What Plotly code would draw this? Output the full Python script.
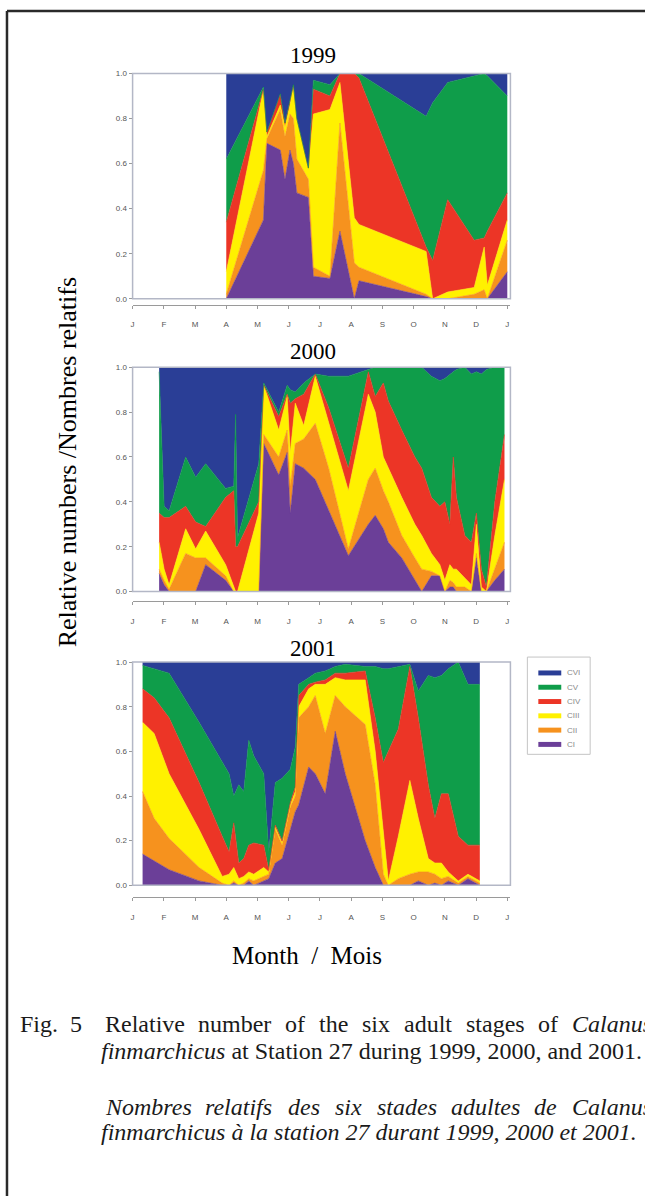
import plotly.graph_objects as go

W, H = 645, 1201

stage_names = ["CI", "CII", "CIII", "CIV", "CV", "CVI"]
stage_colors = ["#6b3f98", "#f6921e", "#fff100", "#ec3526", "#0f9d4a", "#2a3e96"]

month_ticks = list(range(13))
month_labels = ["J", "F", "M", "A", "M", "J", "J", "A", "S", "O", "N", "D", "J"]
value_ticks = [0.0, 0.2, 0.4, 0.6, 0.8, 1.0]
TOTAL = 1.0  # relative numbers of all six stages sum to one

# Sampling dates (decimal months since 1 January) and cumulative relative
# numbers: upper edge of each stage band (CI, CI+CII, ... , CI..CV).
months_1999 = [3.0, 4.19, 4.30, 4.73, 4.88, 5.04, 5.15, 5.26, 5.63, 5.79, 6.32,
               6.64, 7.10, 7.25, 9.40, 9.61, 10.09, 10.94, 11.26, 11.36, 12.0]
ci_1999 = [0.00, 0.35, 0.69, 0.66, 0.53, 0.66, 0.60, 0.47, 0.45, 0.10, 0.09,
           0.30, 0.00, 0.08, 0.01, 0.00, 0.00, 0.00, 0.00, 0.00, 0.12]
cii_1999 = [0.02, 0.57, 0.71, 0.84, 0.72, 0.82, 0.80, 0.62, 0.53, 0.14, 0.10,
            0.78, 0.16, 0.14, 0.02, 0.00, 0.00, 0.02, 0.04, 0.00, 0.26]
ciii_1999 = [0.12, 0.93, 0.72, 0.86, 0.76, 0.86, 0.95, 0.80, 0.58, 0.82, 0.84,
             0.96, 0.36, 0.33, 0.21, 0.00, 0.03, 0.05, 0.23, 0.06, 0.35]
civ_1999 = [0.34, 0.93, 0.74, 0.91, 0.78, 0.88, 0.95, 0.80, 0.58, 0.93, 0.90,
            1.00, 1.00, 0.98, 0.23, 0.17, 0.44, 0.26, 0.27, 0.30, 0.47]
cv_1999 = [0.62, 0.94, 0.74, 0.91, 0.78, 0.88, 0.95, 0.80, 0.58, 0.97, 0.95,
           1.00, 1.00, 1.00, 0.81, 0.87, 0.96, 0.99, 1.00, 0.99, 0.90]

months_2000 = [0.85, 1.01, 1.17, 1.70, 2.02, 2.34, 2.98, 3.24, 3.30, 3.36,
               4.04, 4.20, 4.68, 4.95, 5.05, 5.21, 5.48, 5.85, 6.28, 6.91,
               7.55, 7.77, 8.03, 8.19, 8.62, 9.04, 9.26, 9.57, 9.84, 10.00,
               10.16, 10.27, 10.37, 10.64, 10.85, 11.01, 11.17, 11.33, 11.60, 11.91]
ci_2000 = [0.08, 0.03, 0.00, 0.00, 0.00, 0.12, 0.05, 0.00, 0.00, 0.00,
           0.00, 0.66, 0.52, 0.62, 0.35, 0.57, 0.55, 0.50, 0.36, 0.16,
           0.30, 0.34, 0.28, 0.22, 0.15, 0.05, 0.00, 0.07, 0.07, 0.00,
           0.02, 0.02, 0.00, 0.00, 0.00, 0.15, 0.00, 0.00, 0.05, 0.10]
cii_2000 = [0.10, 0.05, 0.01, 0.17, 0.15, 0.15, 0.07, 0.00, 0.00, 0.00,
            0.00, 0.70, 0.60, 0.72, 0.47, 0.66, 0.68, 0.75, 0.55, 0.19,
            0.50, 0.55, 0.45, 0.40, 0.25, 0.15, 0.10, 0.09, 0.07, 0.00,
            0.05, 0.04, 0.02, 0.02, 0.00, 0.17, 0.00, 0.00, 0.10, 0.22]
ciii_2000 = [0.22, 0.10, 0.03, 0.28, 0.19, 0.27, 0.12, 0.02, 0.00, 0.00,
             0.35, 0.92, 0.72, 0.87, 0.62, 0.84, 0.74, 0.96, 0.75, 0.45,
             0.88, 0.80, 0.60, 0.55, 0.42, 0.30, 0.25, 0.17, 0.12, 0.05,
             0.12, 0.10, 0.10, 0.06, 0.03, 0.30, 0.02, 0.00, 0.25, 0.50]
civ_2000 = [0.35, 0.33, 0.33, 0.38, 0.31, 0.29, 0.42, 0.45, 0.20, 0.20,
            0.40, 0.92, 0.78, 0.88, 0.84, 0.86, 0.88, 0.97, 0.82, 0.55,
            0.98, 0.87, 0.93, 0.85, 0.72, 0.60, 0.55, 0.42, 0.38, 0.40,
            0.30, 0.60, 0.42, 0.25, 0.22, 0.35, 0.10, 0.02, 0.40, 0.70]
cv_2000 = [0.98, 0.38, 0.36, 0.60, 0.51, 0.57, 0.46, 0.47, 0.79, 0.24,
           0.57, 0.93, 0.80, 0.92, 0.90, 0.89, 0.93, 0.97, 0.96, 0.96,
           0.99, 1.00, 1.00, 1.00, 1.00, 1.00, 1.00, 0.96, 0.94, 0.95,
           0.97, 0.98, 0.99, 1.00, 0.97, 0.98, 0.97, 0.99, 1.00, 1.00]

months_2001 = [0.32, 0.69, 1.17, 2.13, 2.87, 3.09, 3.24, 3.40, 3.56, 3.72,
               3.88, 4.20, 4.36, 4.57, 4.79, 5.05, 5.21, 5.32, 5.64, 5.85,
               6.17, 6.49, 6.81, 7.45, 7.77, 8.03, 8.19, 8.51, 8.88, 9.15,
               9.47, 9.68, 9.89, 10.11, 10.43, 10.74, 11.12]
ci_2001 = [0.14, 0.11, 0.07, 0.02, 0.00, 0.00, 0.01, 0.00, 0.00, 0.02,
           0.00, 0.02, 0.03, 0.10, 0.12, 0.25, 0.33, 0.36, 0.53, 0.50,
           0.41, 0.69, 0.50, 0.20, 0.08, 0.00, 0.00, 0.00, 0.00, 0.02,
           0.00, 0.01, 0.00, 0.02, 0.00, 0.03, 0.00]
cii_2001 = [0.42, 0.30, 0.21, 0.08, 0.01, 0.00, 0.02, 0.00, 0.01, 0.03,
            0.02, 0.04, 0.05, 0.25, 0.18, 0.35, 0.40, 0.75, 0.80, 0.85,
            0.68, 0.85, 0.80, 0.72, 0.45, 0.05, 0.00, 0.03, 0.05, 0.06,
            0.06, 0.05, 0.03, 0.04, 0.01, 0.04, 0.01]
ciii_2001 = [0.73, 0.68, 0.50, 0.25, 0.04, 0.05, 0.08, 0.03, 0.04, 0.06,
             0.05, 0.08, 0.06, 0.26, 0.19, 0.36, 0.42, 0.80, 0.88, 0.90,
             0.90, 0.93, 0.92, 0.92, 0.60, 0.25, 0.02, 0.22, 0.47, 0.30,
             0.12, 0.10, 0.10, 0.06, 0.02, 0.05, 0.02]
civ_2001 = [0.88, 0.84, 0.75, 0.46, 0.22, 0.15, 0.28, 0.10, 0.12, 0.18,
            0.19, 0.18, 0.07, 0.27, 0.20, 0.37, 0.44, 0.85, 0.90, 0.91,
            0.92, 0.95, 0.95, 0.96, 0.75, 0.55, 0.60, 0.70, 0.98, 0.75,
            0.45, 0.30, 0.41, 0.41, 0.22, 0.18, 0.18]
cv_2001 = [0.985, 0.97, 0.95, 0.73, 0.55, 0.50, 0.40, 0.45, 0.42, 0.65,
           0.58, 0.50, 0.15, 0.46, 0.48, 0.52, 0.62, 0.90, 0.93, 0.95,
           0.96, 0.98, 0.99, 0.98, 0.98, 0.97, 0.97, 0.98, 0.99, 0.87,
           0.94, 0.93, 0.94, 0.97, 1.00, 0.90, 0.90]

years = ["1999", "2000", "2001"]
panel_months = [months_1999, months_2000, months_2001]
panel_tops = [
    [ci_1999, cii_1999, ciii_1999, civ_1999, cv_1999],
    [ci_2000, cii_2000, ciii_2000, civ_2000, cv_2000],
    [ci_2001, cii_2001, ciii_2001, civ_2001, cv_2001],
]

# layout geometry in pixels: (plot top, plot bottom, x-axis line, title centre)
geom = [(70, 297, 303, 52), (366, 592, 602, 350), (663, 888, 900, 649)]
X0, X1 = 131, 510
XRANGE = [0, 12.1]


def px(x):
    return x / W


def py(y):
    return 1 - y / H


fig = go.Figure()
tick_font = dict(family="Liberation Sans", size=8, color="#555555")
serif = "Liberation Serif"

for i, (year, months, tops) in enumerate(zip(years, panel_months, panel_tops)):
    xa = "x" if i == 0 else f"x{i + 1}"
    ya = "y" if i == 0 else f"y{i + 1}"
    for k, name in enumerate(stage_names):
        yvals = tops[k] if k < 5 else [TOTAL] * len(months)
        fig.add_trace(go.Scatter(
            x=months, y=yvals, mode="lines",
            line=dict(width=0.6, color=stage_colors[k]),
            fill="tozeroy" if k == 0 else "tonexty",
            fillcolor=stage_colors[k],
            name=name, showlegend=False,
            xaxis=xa, yaxis=ya, hoverinfo="skip",
        ))
    top, bottom, axis_y, title_y = geom[i]
    suffix = "" if i == 0 else str(i + 1)
    fig.layout["xaxis" + suffix] = dict(
        domain=[px(X0), px(X1)], range=XRANGE, anchor="free", position=py(axis_y),
        showline=True, linecolor="#9a9a9a", linewidth=1,
        ticks="outside", ticklen=3, tickcolor="#9a9a9a",
        tickvals=month_ticks, ticktext=month_labels, tickfont=tick_font,
        ticklabelstandoff=9, showgrid=False, zeroline=False, fixedrange=True,
    )
    fig.layout["yaxis" + suffix] = dict(
        domain=[py(bottom), py(top)], range=[0, 1.0], anchor=xa,
        showline=False, ticks="outside", ticklen=3, tickcolor="#9a9a9a",
        tickvals=value_ticks, tickformat=".1f", tickfont=tick_font,
        showgrid=False, zeroline=False, fixedrange=True,
    )
    fig.add_shape(type="rect", xref="paper", yref="paper",
                  x0=px(X0), x1=px(X1), y0=py(bottom), y1=py(top),
                  line=dict(color="#b3b7c6", width=1.5), layer="above")
    fig.add_annotation(text=year, x=px(312), y=py(title_y), xref="paper", yref="paper",
                       showarrow=False, xanchor="center", yanchor="middle",
                       font=dict(family=serif, size=23, color="black"))

# stage key (legend box beside the 2001 panel)
LEG_X0, LEG_X1, LEG_Y0, LEG_Y1 = 527, 590, 658, 756
fig.add_shape(type="rect", xref="paper", yref="paper",
              x0=px(LEG_X0), x1=px(LEG_X1), y0=py(LEG_Y1), y1=py(LEG_Y0),
              line=dict(color="#c4c4c4", width=1), fillcolor="white")
for r, k in enumerate(range(5, -1, -1)):
    yc = 674 + 14.4 * r
    fig.add_shape(type="rect", xref="paper", yref="paper",
                  x0=px(538), x1=px(561), y0=py(yc + 2.5), y1=py(yc - 2.5),
                  line=dict(width=0), fillcolor=stage_colors[k])
    fig.add_annotation(text=stage_names[k], x=px(565), y=py(yc), xref="paper", yref="paper",
                       showarrow=False, xanchor="left", yanchor="middle",
                       font=dict(family="Liberation Sans", size=8, color="#8a8a8a"))

# figure border (left and top)
fig.add_shape(type="line", xref="paper", yref="paper", x0=px(5), x1=px(5), y0=0, y1=py(7),
              line=dict(color="#2a2a2a", width=2.5))
fig.add_shape(type="line", xref="paper", yref="paper", x0=px(5), x1=1, y0=py(7), y1=py(7),
              line=dict(color="#2a2a2a", width=2.5))

fig.add_annotation(text="Relative numbers /Nombres relatifs", x=px(66), y=py(462),
                   xref="paper", yref="paper", showarrow=False, textangle=-90,
                   xanchor="center", yanchor="middle",
                   font=dict(family=serif, size=26, color="black"))
fig.add_annotation(text="Month  /  Mois", x=px(306), y=py(959),
                   xref="paper", yref="paper", showarrow=False,
                   xanchor="center", yanchor="middle",
                   font=dict(family=serif, size=25, color="black"))

cap_font = dict(family=serif, size=24, color="#1a1a1a")
caption_words = [
    ("Fig.", 16, 1028), ("5", 66, 1028),
    ("Relative", 101, 1028), ("number", 195, 1028), ("of", 282, 1028),
    ("the", 316, 1028), ("six", 359, 1028), ("adult", 401, 1028),
    ("stages", 463, 1028), ("of", 536, 1028), ("<i>Calanus</i>", 570, 1028),
    ("<i>finmarchicus</i> at Station 27 during 1999, 2000, and 2001.", 97, 1055),
    ("<i>Nombres</i>", 101, 1111), ("<i>relatifs</i>", 202, 1111), ("<i>des</i>", 285, 1111),
    ("<i>six</i>", 332, 1111), ("<i>stades</i>", 374, 1111), ("<i>adultes</i>", 448, 1111),
    ("<i>de</i>", 532, 1111), ("<i>Calanus</i>", 570, 1111),
    ("<i>finmarchicus à la station 27 durant 1999, 2000 et 2001.</i>", 97, 1137),
]
for txt, x, y in caption_words:
    fig.add_annotation(text=txt, x=px(x), y=py(y), xref="paper", yref="paper",
                       showarrow=False, xanchor="left", yanchor="middle", font=cap_font)

fig.update_layout(
    width=W, height=H, margin=dict(l=0, r=0, t=0, b=0),
    paper_bgcolor="white", plot_bgcolor="white", showlegend=False,
)

fig.write_html("out.html", config={"displayModeBar": False},
               post_script="document.body.style.margin='0';document.body.style.overflow='hidden';")
